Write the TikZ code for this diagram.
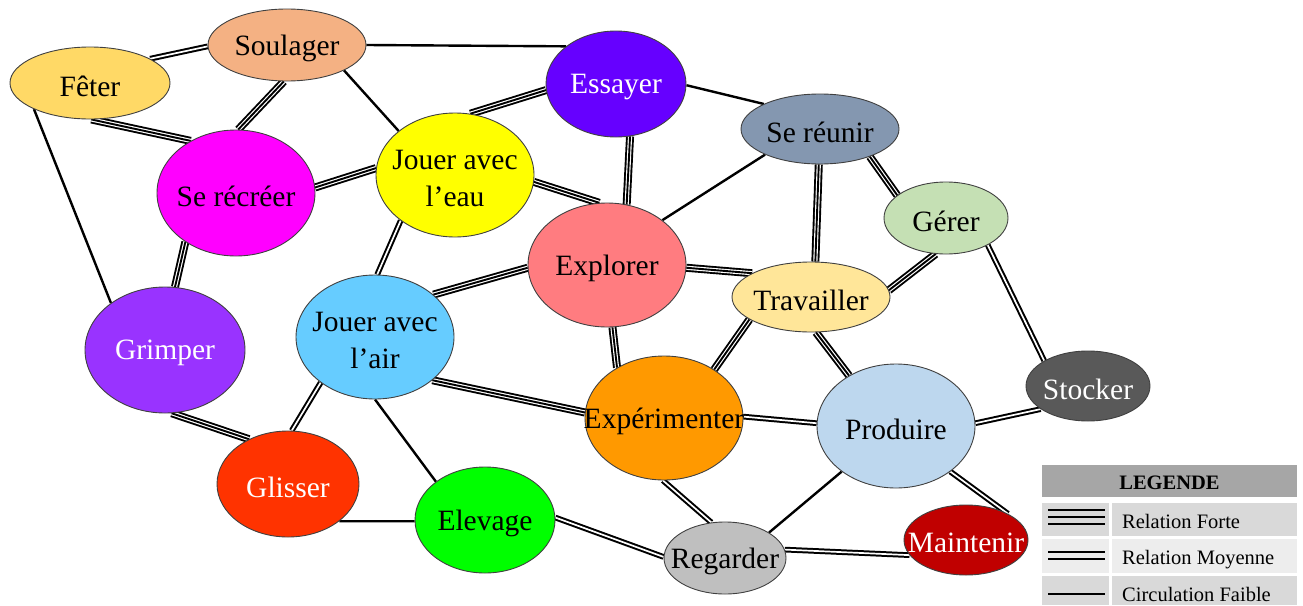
\documentclass[tikz,border=0pt]{standalone}
\usepackage{fontspec}
\setmainfont{Liberation Serif}
\usetikzlibrary{shapes.geometric}
\pgfdeclarelayer{bg}
\pgfsetlayers{bg,main}
\definecolor{cFet}{HTML}{FFD966}
\definecolor{cSou}{HTML}{F4B183}
\definecolor{cRec}{HTML}{FF00FF}
\definecolor{cEau}{HTML}{FFFF00}
\definecolor{cEss}{HTML}{6600FF}
\definecolor{cReu}{HTML}{8497B0}
\definecolor{cGer}{HTML}{C5E0B4}
\definecolor{cExp}{HTML}{FF7C80}
\definecolor{cTra}{HTML}{FFE699}
\definecolor{cAir}{HTML}{66CCFF}
\definecolor{cGri}{HTML}{9933FF}
\definecolor{cGli}{HTML}{FF3300}
\definecolor{cXpe}{HTML}{FF9900}
\definecolor{cPro}{HTML}{BDD7EE}
\definecolor{cSto}{HTML}{595959}
\definecolor{cEle}{HTML}{00FF00}
\definecolor{cReg}{HTML}{BFBFBF}
\definecolor{cMai}{HTML}{C00000}
\definecolor{legHead}{HTML}{A6A6A6}
\definecolor{legDark}{HTML}{D9D9D9}
\definecolor{legLight}{HTML}{EDEDED}
\tikzset{
  bubble/.style={ellipse, draw=black!75, line width=0.9pt, inner sep=0pt},
  lbl/.style={font=\fontsize{29.5}{37}\selectfont, align=center, inner sep=0pt},
  strong/.style={draw=black, line width=8pt, postaction={draw=white, line width=4.2pt}, postaction={draw=black, line width=1.9pt}},
  medium/.style={draw=black, line width=2pt, double=white, double distance=1.7pt},
  weak/.style={draw=black, line width=2.4pt},
  legtxt/.style={font=\fontsize{20.5}{24}\selectfont, inner sep=0pt, anchor=base west},
  legline/.style={draw=black, line width=2.7pt},
}
\newcommand\bub[8]{%
  \node[bubble, minimum width=#4pt, minimum height=#5pt, fill=#6] (#1) at (#2,#3) {};
  \node[lbl, text=#7] (#1t) at ([yshift=-3pt]#1.center) {#8};}
\begin{document}
\begin{tikzpicture}[x=1pt,y=-1pt]
\useasboundingbox (0,0) rectangle (1303,605);
\bub{fet}{90}{83}{160}{72}{cFet}{black}{Fêter}
\bub{sou}{287}{45}{158}{72}{cSou}{black}{Soulager}
\bub{rec}{236}{193}{158}{126}{cRec}{black}{Se récréer}
\bub{eau}{455}{175}{158}{124}{cEau}{black}{Jouer avec\\l’eau}
\bub{ess}{616}{84}{140}{106}{cEss}{white}{Essayer}
\bub{reu}{820}{129}{158}{70}{cReu}{black}{Se réunir}
\bub{ger}{946}{218}{124}{72}{cGer}{black}{Gérer}
\bub{exp}{607}{265}{158}{124}{cExp}{black}{Explorer}
\bub{tra}{811}{297}{158}{70}{cTra}{black}{Travailler}
\bub{air}{375}{337}{158}{124}{cAir}{black}{Jouer avec\\l’air}
\bub{gri}{165}{350}{160}{126}{cGri}{white}{Grimper}
\bub{gli}{288}{484}{142}{106}{cGli}{white}{Glisser}
\bub{xpe}{664}{418}{158}{124}{cXpe}{black}{Expérimenter}
\bub{pro}{896}{426}{158}{124}{cPro}{black}{Produire}
\bub{sto}{1088}{386}{124}{70}{cSto}{white}{Stocker}
\bub{ele}{485}{520}{140}{106}{cEle}{black}{Elevage}
\bub{reg}{725}{558}{122}{72}{cReg}{black}{Regarder}
\bub{mai}{966}{540}{124}{70}{cMai}{white}{Maintenir}
\begin{pgfonlayer}{bg}
\draw[medium] (fet.22) -- (sou.181);
\draw[strong] (fet.-88) -- (rec.131);
\draw[weak] (fet.205) -- (gri.139);
\draw[strong] (sou.-95) -- (rec.88);
\draw[weak] (sou.-24) -- (eau.142);
\draw[weak] (sou.0) -- (ess.143);
\draw[strong] (rec.4) -- (eau.175);
\draw[strong] (rec.-136) -- (gri.81);
\draw[medium] (eau.-140) -- (air.88);
\draw[strong] (eau.76) -- (ess.185);
\draw[strong] (eau.-5) -- (exp.97);
\draw[strong] (ess.-75) -- (exp.72);
\draw[weak] (ess.-1) -- (reu.156);
\draw[weak] (exp.39) -- (reu.205);
\draw[strong] (exp.-2) -- (tra.158);
\draw[strong] (exp.182) -- (air.36);
\draw[strong] (reu.-92) -- (tra.83);
\draw[strong] (reu.-29) -- (ger.155);
\draw[strong] (ger.-106) -- (tra.5);
\draw[medium] (ger.-33) -- (sto.150);
\draw[strong] (tra.-160) -- (xpe.44);
\draw[strong] (tra.-82) -- (pro.133);
\draw[medium] (xpe.1) -- (pro.178);
\draw[medium] (pro.2) -- (sto.206);
\draw[strong] (gri.-84) -- (gli.131);
\draw[medium] (air.-140) -- (gli.86);
\draw[weak] (air.-90) -- (ele.142);
\draw[weak] (gli.-36) -- (ele.181);
\draw[strong] (air.-37) -- (xpe.176);
\draw[strong] (exp.-85) -- (xpe.133);
\draw[medium] (xpe.-91) -- (reg.111);
\draw[medium] (ele.2) -- (reg.179);
\draw[weak] (reg.30) -- (pro.220);
\draw[medium] (reg.8) -- (mai.195);
\draw[medium] (pro.-40) -- (mai.32);
\end{pgfonlayer}
% legend
\fill[legHead] (1042,465) rectangle (1297,497);
\fill[legDark] (1042,503) rectangle (1109,536);
\fill[legDark] (1112,503) rectangle (1297,536);
\fill[legLight] (1042,539) rectangle (1109,573);
\fill[legLight] (1112,539) rectangle (1297,573);
\fill[legDark] (1042,576) rectangle (1109,605);
\fill[legDark] (1112,576) rectangle (1297,605);
\node[font=\fontsize{20.5}{24}\selectfont\bfseries, inner sep=0pt, anchor=base] (legT) at (1169.5,489) {LEGENDE};
\node[legtxt] (leg1) at (1122,528) {Relation Forte};
\node[legtxt] (leg2) at (1122,564) {Relation Moyenne};
\node[legtxt] (leg3) at (1122,601) {Circulation Faible};
\coordinate (s1a) at (1048,510); \coordinate (s1b) at (1105,510);
\coordinate (s2a) at (1048,517); \coordinate (s2b) at (1105,517);
\coordinate (s3a) at (1048,524); \coordinate (s3b) at (1105,524);
\coordinate (m1a) at (1048,552); \coordinate (m1b) at (1105,552);
\coordinate (m2a) at (1048,559); \coordinate (m2b) at (1105,559);
\coordinate (w1a) at (1048,594); \coordinate (w1b) at (1105,594);
\draw[legline] (s1a) -- (s1b);
\draw[legline] (s2a) -- (s2b);
\draw[legline] (s3a) -- (s3b);
\draw[legline] (m1a) -- (m1b);
\draw[legline] (m2a) -- (m2b);
\draw[legline] (w1a) -- (w1b);
\end{tikzpicture}
\end{document}
